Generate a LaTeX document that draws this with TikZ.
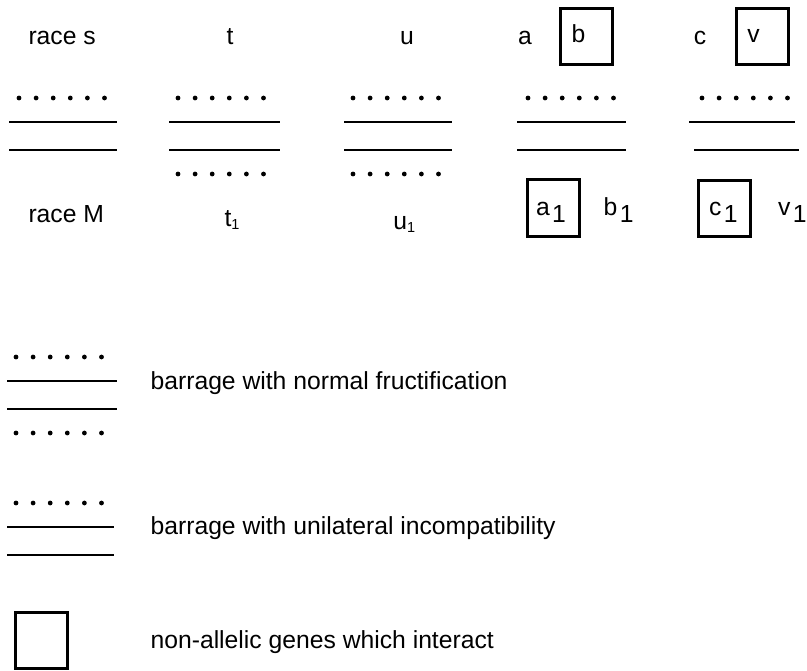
\documentclass[tikz,border=0pt]{standalone}
\usepackage{fontspec}
\setmainfont{Liberation Sans}
\begin{document}
\begin{tikzpicture}[x=1bp,y=-1bp,
  every node/.style={inner sep=0pt,outer sep=0pt},
  lbl/.style={anchor=base,font=\fontsize{24.7bp}{30bp}\selectfont},
  lblw/.style={lbl,anchor=base west},
  bar/.style={line width=2.8bp},
  genebox/.style={draw,line width=2.8bp,minimum width=52.3bp,minimum height=56.3bp},
  dotrow/.pic={\foreach \i in {0,...,5} \fill (\i*17.1,0) circle (2.4);}
]
\useasboundingbox (0,0) rectangle (807,671);

% subscript helpers
\newcommand\bigsub[1]{\hspace{2.5bp}\raisebox{-7.7bp}{#1}}
\newcommand\smallsub[1]{{\fontsize{14.5bp}{15bp}\selectfont\raisebox{-3bp}{#1}}}

% top row labels
\node[lblw] (rs) at (28.5,44.5) {race s};
\node[lbl] (tt) at (230,44.5) {t};
\node[lbl] (tu) at (407,44.5) {u};
\node[lbl] (ta) at (525,45) {a};
\node[genebox] (bb) at (586.5,36.5) {};
\node[lbl] (tb) at (578.5,42.7) {b};
\node[lbl] (tc) at (700,45) {c};
\node[genebox] (bv) at (762.5,36.5) {};
\node[lbl] (tv) at (753.5,43) {v};

% barrage between races
\pic at (19,98) {dotrow};
\draw[bar] (9,122) -- (117,122);
\draw[bar] (9,150) -- (117,150);

\pic at (178,98) {dotrow};
\draw[bar] (169,122) -- (280,122);
\draw[bar] (169,150) -- (280,150);
\pic at (178,174) {dotrow};

\pic at (353,98) {dotrow};
\draw[bar] (344,122) -- (452,122);
\draw[bar] (344,150) -- (452,150);
\pic at (353,174) {dotrow};

\pic at (528,98) {dotrow};
\draw[bar] (517,122) -- (626,122);
\draw[bar] (517,150) -- (626,150);

\pic at (702,98) {dotrow};
\draw[bar] (689,122) -- (795,122);
\draw[bar] (694,150) -- (799,150);

% bottom row labels
\node[lblw] (rm) at (28.5,222.7) {race M};
\node[lblw] (bt) at (224.6,226.5) {t\smallsub{1}};
\node[lblw] (bu) at (393.4,229) {u\smallsub{1}};
\node[genebox] (ba) at (553.5,208) {};
\node[lblw] (la) at (536,215) {a\bigsub{1}};
\node[lblw] (lb) at (603.6,215) {b\bigsub{1}};
\node[genebox] (bc) at (724.5,208.5) {};
\node[lblw] (lc) at (709,215) {c\bigsub{1}};
\node[lblw] (lv) at (778,215) {v\bigsub{1}};

% key
\pic at (16,357) {dotrow};
\draw[bar] (7,381) -- (117,381);
\draw[bar] (7,409) -- (117,409);
\pic at (16,433) {dotrow};
\node[lblw] (k1) at (150.6,389) {barrage with normal fructification};

\pic at (16,503) {dotrow};
\draw[bar] (7,527) -- (114,527);
\draw[bar] (7,555) -- (114,555);
\node[lblw] (k2) at (150.6,534) {barrage with unilateral incompatibility};

\node[genebox] (kb) at (41.5,640.5) {};
\node[lblw] (k3) at (150.6,648) {non-allelic genes which interact};
\end{tikzpicture}
\end{document}
